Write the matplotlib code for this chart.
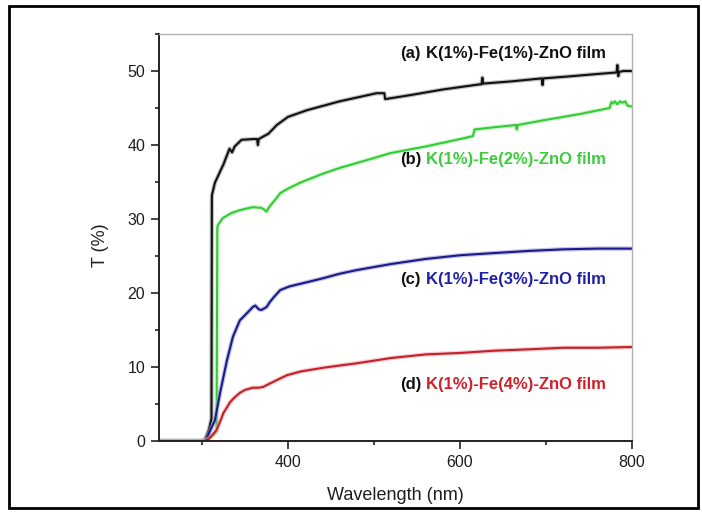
import matplotlib
matplotlib.use("Agg")
import matplotlib.pyplot as plt
from matplotlib.ticker import MultipleLocator, FixedLocator
from matplotlib.patches import Rectangle
import matplotlib.patheffects as pe

plt.rcParams['font.family'] = ['Liberation Sans', 'DejaVu Sans']

# ---- data ----
wl_a = [250, 300, 304, 308, 311, 311.5, 315, 325, 332, 335, 338, 346, 359, 364, 365, 366,
        372, 377, 387, 400, 422, 460, 503, 512, 513, 540, 580, 623, 625, 626, 627, 660,
        695, 696, 697, 730, 760, 782, 783, 784, 785, 786, 790, 800]
T_a = [0, 0, 0.3, 1.5, 3, 33.2, 34.9, 37.4, 39.5, 39.0, 39.8, 40.7, 40.8, 40.8, 40.0, 40.8,
       41.2, 41.5, 42.7, 43.8, 44.7, 45.9, 47.0, 47.0, 46.2, 46.7, 47.5, 48.2, 48.2, 49.1, 48.3, 48.6,
       49.0, 48.1, 49.0, 49.3, 49.6, 49.8, 50.8, 49.3, 49.9, 49.9, 50.0, 50.0]

wl_b = [250, 303, 308, 313, 317, 317.8, 318.5, 324, 334, 344, 359, 369, 372, 375, 378, 385,
        391, 400, 414, 440, 460, 490, 519, 560, 600, 615, 617, 640, 665, 666, 667, 700,
        740, 774, 776, 778, 780, 783, 786, 789, 792, 795, 800]
T_b = [0, 0, 0.3, 0.8, 1.3, 28.8, 29.2, 30.1, 30.8, 31.2, 31.6, 31.5, 31.3, 31.0, 31.6, 32.6,
       33.5, 34.1, 34.9, 36.1, 36.9, 37.9, 38.9, 39.8, 40.8, 41.2, 42.1, 42.4, 42.7, 42.1, 42.7, 43.4,
       44.2, 45.0, 45.8, 45.6, 45.9, 45.5, 45.9, 45.7, 45.9, 45.3, 45.2]

wl_c = [250, 303, 306, 309, 315, 321, 329, 336, 344, 350, 355, 359, 362, 366, 369, 372, 375,
        379, 384, 391, 402, 420, 441, 460, 480, 519, 560, 600, 640, 682, 720, 760, 800]
T_c = [0, 0, 0.4, 1.3, 2.8, 6.5, 10.9, 14.1, 16.3, 17.0, 17.6, 18.1, 18.3, 17.8, 17.7, 17.9, 18.1,
       18.8, 19.5, 20.4, 20.9, 21.4, 22.0, 22.6, 23.1, 23.9, 24.6, 25.1, 25.4, 25.7, 25.9, 26.0, 26.0]

wl_d = [250, 303, 308, 312, 317, 321, 325, 333, 338, 344, 350, 359, 366, 371, 376, 383, 390,
        399, 415, 441, 460, 480, 519, 560, 600, 640, 682, 720, 760, 800]
T_d = [0, 0, 0.3, 0.8, 1.5, 2.6, 3.8, 5.3, 5.9, 6.5, 6.9, 7.2, 7.2, 7.3, 7.6, 8.0, 8.4,
       8.9, 9.4, 9.9, 10.2, 10.5, 11.2, 11.7, 11.9, 12.2, 12.4, 12.6, 12.6, 12.7]

tags = ["(a)", "(b)", "(c)", "(d)"]
names = ["K(1%)-Fe(1%)-ZnO film", "K(1%)-Fe(2%)-ZnO film",
         "K(1%)-Fe(3%)-ZnO film", "K(1%)-Fe(4%)-ZnO film"]
label_y = [52.4, 38.0, 21.8, 7.7]

line_colors = ["#111111", "#33cc33", "#1a1a88", "#c42028"]
glow_colors = ["#9a9a9a", "#b5f0b5", "#9a9ad8", "#f0a8b0"]
text_colors = ["#111111", "#3ccc3c", "#2020a8", "#d0202a"]

fig = plt.figure(figsize=(7.02, 5.12), dpi=100)
ax = fig.add_axes([159/702, 1-441/512, (632-159)/702, (441-34)/512])

series = [(wl_a, T_a), (wl_b, T_b), (wl_c, T_c), (wl_d, T_d)]
for (x, y), c, g in zip(series, line_colors, glow_colors):
    ax.plot(x, y, color=c, lw=1.5, solid_joinstyle='round',
            path_effects=[pe.Stroke(linewidth=3.2, foreground=g, alpha=0.6), pe.Normal()])

ax.set_xlim(250, 800)
ax.set_ylim(0, 55)
ax.xaxis.set_major_locator(FixedLocator([400, 600, 800]))
ax.xaxis.set_minor_locator(FixedLocator([300, 500, 700]))
ax.yaxis.set_major_locator(MultipleLocator(10))
ax.yaxis.set_minor_locator(MultipleLocator(5))

ax.tick_params(which='both', direction='out', top=False, right=False,
               color='#222222', width=1.2, labelsize=11.5, labelcolor='#1e1e1e')
ax.tick_params(which='major', length=6, pad=4)
ax.tick_params(which='minor', length=3)

for s in ['left', 'bottom']:
    ax.spines[s].set_color('#222222')
    ax.spines[s].set_linewidth(1.4)
for s in ['top', 'right']:
    ax.spines[s].set_color('#b0b0b0')
    ax.spines[s].set_linewidth(1.0)

ax.set_xlabel("Wavelength (nm)", fontsize=13, color='#1e1e1e', labelpad=12)
ax.set_ylabel("T (%)", fontsize=13, color='#1e1e1e')
ax.yaxis.set_label_coords(-0.105, 0.48)

# curve labels: black tag + coloured name
tag_x = 530.2
name_x = 561.0
for t, n, yv, tc in zip(tags, names, label_y, text_colors):
    ax.text(tag_x, yv, t, fontsize=12, fontweight='bold', color='#111111',
            ha='left', va='center')
    ax.text(name_x, yv, n, fontsize=12, fontweight='bold', color=tc,
            ha='left', va='center')

# outer border
fig.patches.append(Rectangle((9/702, 1-508/512), (698-9)/702, (508-6)/512,
                             transform=fig.transFigure, fill=False,
                             edgecolor='black', linewidth=2))

fig.savefig("out.png", dpi=100)
